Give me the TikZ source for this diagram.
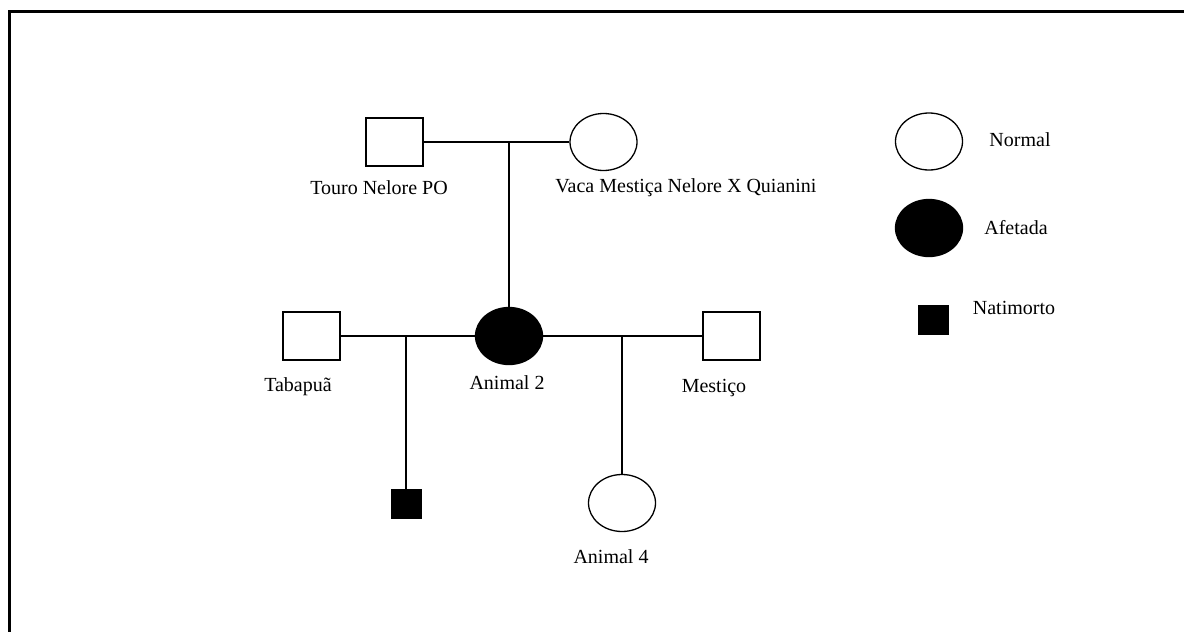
\documentclass[tikz,border=0pt]{standalone}
\usepackage{fontspec}
\setmainfont{Liberation Serif}
\usetikzlibrary{shapes.geometric}
\tikzset{x=1pt,y=-1pt,
    every node/.style={font=\fontsize{20}{24}\selectfont},
    male/.style={draw,rectangle,line width=1.3pt,minimum width=57pt,minimum height=48pt,inner sep=0pt},
    female/.style={draw,ellipse,line width=1.3pt,minimum width=67pt,minimum height=57pt,inner sep=0pt},
    affected/.style={fill=black},
    stillborn/.style={draw,fill=black,minimum width=30pt,minimum height=29pt,inner sep=0pt},
    tag/.style={inner sep=0pt},
    link/.style={line width=1.3pt},
    }

\begin{document}
\begin{tikzpicture}
\useasboundingbox (0,0) rectangle (1184,632);
\draw[line width=3pt] (9.5,632) -- (9.5,11) -- (1184,11);
% parents
\node[male] (touro) at (394.5,142) {};
\node[female] (vaca) at (603.5,142) {};
\node[tag] (tourolbl) at (379,188) {Touro Nelore PO};
\node[tag] (vacalbl) at (686,188) {Vaca Mestiça Nelore X Quianini};
% animal 2 and mates
\node[female,affected] (animal2) at (509,336) {};
\node[male] (tabapua) at (311.5,336) {};
\node[male] (mestico) at (731.5,336) {};
\node[tag] (animal2lbl) at (507,383) {Animal 2};
\node[tag] (tabapualbl) at (298,387) {Tabapuã};
\node[tag] (mesticolbl) at (714,388) {Mestiço};
% offspring
\node[stillborn] (natimorto) at (406,503.5) {};
\node[female] (animal4) at (622,503) {};
\node[tag] (animal4lbl) at (611,557) {Animal 4};
\coordinate (parjoin) at (509,142);
\coordinate (natjoin) at (406,336);
\coordinate (a4join) at (622,336);
\draw[link] (touro) -- (vaca);
\draw[link] (parjoin) -- (animal2);
\draw[link] (tabapua) -- (animal2);
\draw[link] (animal2) -- (mestico);
\draw[link] (natjoin) -- (natimorto);
\draw[link] (a4join) -- (animal4);
% legend
\node[female] (keynormal) at (929,141.5) {};
\node[female,affected] (keyafetada) at (929,228) {};
\node[stillborn] (keynatimorto) at (933.5,320) {};
\node[tag] (normallbl) at (1020,140) {Normal};
\node[tag] (afetadalbl) at (1016,228) {Afetada};
\node[tag] (natimortolbl) at (1014,308) {Natimorto};
\end{tikzpicture}
\end{document}
